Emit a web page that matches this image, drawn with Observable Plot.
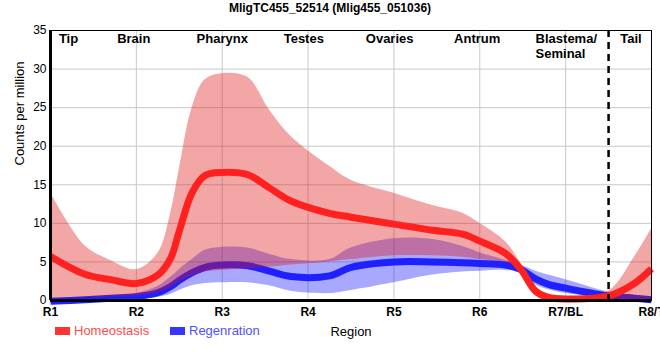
<!DOCTYPE html>
<html><head>
<meta charset="utf-8">
<script src="https://cdn.jsdelivr.net/npm/d3@7"></script>
<script src="https://cdn.jsdelivr.net/npm/@observablehq/plot@0.6"></script>
<style>
body{margin:0;background:#fff;font-family:"Liberation Sans",Arial,sans-serif}
#wrap{position:relative;width:660px;height:360px;overflow:hidden}
#title{position:absolute;top:1px;left:0;width:660px;text-align:center;font:bold 12px "Liberation Sans",Arial,sans-serif;color:#000}
#legend{position:absolute;top:0;left:0;font:13px "Liberation Sans",Arial,sans-serif}
#legend .it{position:absolute;top:323px;display:flex;align-items:center;white-space:nowrap}
#legend .sw{display:inline-block;width:15px;height:8px;margin-right:4px}
</style>
</head><body>
<div id="wrap"><div id="title"></div><div id="legend"></div></div>
<script>
const titleText = "MligTC455_52514 (Mlig455_051036)";
const positions = [1, 1.4, 1.7, 2, 2.25, 2.4, 2.5, 2.65, 2.8, 3, 3.3, 3.55, 3.8, 4.25, 4.5, 5, 5.45, 5.8, 6, 6.3, 6.48, 6.65, 6.8, 7, 7.5, 7.8, 8];
const homeoMean  = [5.7, 3.4, 2.7, 2.2, 3.3, 5.5, 9.0, 14.0, 16.2, 16.6, 16.3, 14.6, 12.9, 11.3, 10.8, 9.9, 9.1, 8.6, 7.7, 6.1, 4.0, 1.2, 0.4, 0.2, 0.6, 2.2, 4.1];
const homeoUpper = [14.0, 7.1, 5.2, 4.0, 6.1, 11.3, 17.0, 25.0, 28.6, 29.4, 28.9, 24.7, 21.3, 17.4, 15.6, 13.9, 12.3, 11.3, 10.0, 7.6, 4.8, 1.8, 0.6, 0.3, 1.2, 5.6, 9.3];
const homeoLower = [0.3, 0.4, 0.5, 0.6, 1.0, 1.7, 2.4, 3.2, 3.7, 3.9, 4.1, 4.3, 4.6, 5.0, 5.3, 5.8, 5.8, 5.6, 5.3, 4.9, 4.3, 1.0, -0.1, -0.2, 0.0, 0.1, 0.2];
const regenMean  = [-0.1, 0.1, 0.3, 0.5, 1.0, 1.8, 2.6, 3.6, 4.3, 4.6, 4.5, 3.8, 3.1, 3.2, 4.3, 5.0, 5.0, 4.9, 4.8, 4.6, 4.0, 2.8, 2.1, 1.6, 0.6, 0.3, 0.1];
const regenUpper = [0.3, 0.4, 0.6, 0.9, 1.8, 3.0, 4.0, 5.3, 6.5, 6.9, 6.8, 6.0, 5.3, 5.3, 6.8, 8.0, 7.9, 7.0, 6.2, 5.2, 4.6, 3.8, 3.3, 2.7, 1.1, 0.6, 0.3];
const regenLower = [-0.3, -0.2, 0.0, 0.1, 0.4, 0.8, 1.3, 1.9, 2.2, 2.3, 2.3, 1.9, 1.2, 0.9, 1.3, 2.3, 3.3, 3.7, 3.8, 3.9, 3.6, 2.0, 1.4, 0.9, 0.3, 0.0, -0.2];

const tickPos = [1, 2, 3, 4, 5, 6, 7, 8];
const tickLabels = ["R1", "R2", "R3", "R4", "R5", "R6", "R7/BL", "R8/T"];
const yTicks = [0, 5, 10, 15, 20, 25, 30, 35];
const regionNames = ["Tip", "Brain", "Pharynx", "Testes", "Ovaries", "Antrum", "Blastema/\nSeminal", "Tail"];
const regionX = [1.21, 1.97, 3.0, 3.95, 4.95, 5.97, 6.65, 7.76];
const boundaryX = [7.5];
const seriesNames = ["Homeostasis", "Regenration"];
const seriesLine = ["#ff2020", "#2020ff"];
const seriesSwatch = ["#ff3535", "#3535ff"];
const seriesText = ["#ff4a4a", "#5050ff"];
const legendLeft = [55, 170];

const rows = positions.map((x, i) => ({
  x, hm: homeoMean[i], hu: homeoUpper[i], hl: homeoLower[i],
  rm: regenMean[i], ru: regenUpper[i], rl: regenLower[i]
}));
const labels = regionNames.map((name, i) => ({name, x: regionX[i]}));
const centered = labels.filter(d => !d.name.includes("\n"));
const started = labels.filter(d => d.name.includes("\n"));
const font = "Liberation Sans, Arial, sans-serif";
const curve = "catmull-rom";

const chart = Plot.plot({
  width: 660,
  height: 360,
  marginTop: 30,
  marginBottom: 60,
  marginLeft: 50,
  marginRight: 9,
  style: {fontFamily: font, background: "white", overflow: "visible"},
  x: {domain: [1, 8]},
  y: {domain: [0, 35]},
  marks: [
    Plot.gridX(tickPos, {stroke: "#c8c8c8", strokeOpacity: 1}),
    Plot.gridY(yTicks, {stroke: "#c8c8c8", strokeOpacity: 1}),
    Plot.areaY(rows, {x: "x", y1: "rl", y2: "ru", fill: "#0000ff", fillOpacity: 0.34, curve}),
    Plot.line(rows, {x: "x", y: "rm", stroke: seriesLine[1], strokeWidth: 7, strokeLinecap: "butt", curve}),
    Plot.areaY(rows, {x: "x", y1: "hl", y2: "hu", fill: "#dc1414", fillOpacity: 0.38, curve}),
    Plot.line(rows, {x: "x", y: "hm", stroke: seriesLine[0], strokeWidth: 7, strokeLinecap: "butt", curve}),
    Plot.ruleX(boundaryX, {stroke: "black", strokeWidth: 2.5, strokeDasharray: "7,5"}),
    Plot.frame({stroke: "black", strokeWidth: 1}),
    Plot.ruleX([1], {stroke: "black", strokeWidth: 3}),
    Plot.ruleY([0], {stroke: "black", strokeWidth: 3}),
    Plot.axisX(tickPos, {tickSize: 0, tickPadding: 7, fontSize: 12, fontWeight: "bold", tickFormat: (d, i) => tickLabels[i], label: null}),
    Plot.axisY(yTicks, {tickSize: 0, tickPadding: 4, fontSize: 12, label: null}),
    Plot.text(["Region"], {frameAnchor: "bottom", dy: 35, fontSize: 13, fill: "black"}),
    Plot.text(["Counts per million"], {frameAnchor: "left", rotate: -90, dx: -31, fontSize: 13, fill: "black"}),
    Plot.text(centered, {x: "x", text: "name", frameAnchor: "top", dy: 3, fontSize: 13, fontWeight: "bold", fill: "black"}),
    Plot.text(started, {x: "x", text: "name", frameAnchor: "top", dy: 3, fontSize: 13, fontWeight: "bold", fill: "black", textAnchor: "start", lineHeight: 1.08})
  ]
});
const wrap = document.getElementById("wrap");
wrap.insertBefore(chart, wrap.firstChild);
chart.style.position = "absolute";
chart.style.top = "0";
chart.style.left = "0";
document.getElementById("title").textContent = titleText;
const legend = document.getElementById("legend");
seriesNames.forEach((name, i) => {
  const it = document.createElement("div");
  it.className = "it";
  it.style.left = legendLeft[i] + "px";
  const sw = document.createElement("span");
  sw.className = "sw";
  sw.style.background = seriesSwatch[i];
  const tx = document.createElement("span");
  tx.textContent = name;
  tx.style.color = seriesText[i];
  it.appendChild(sw); it.appendChild(tx);
  legend.appendChild(it);
});
</script>
</body></html>
